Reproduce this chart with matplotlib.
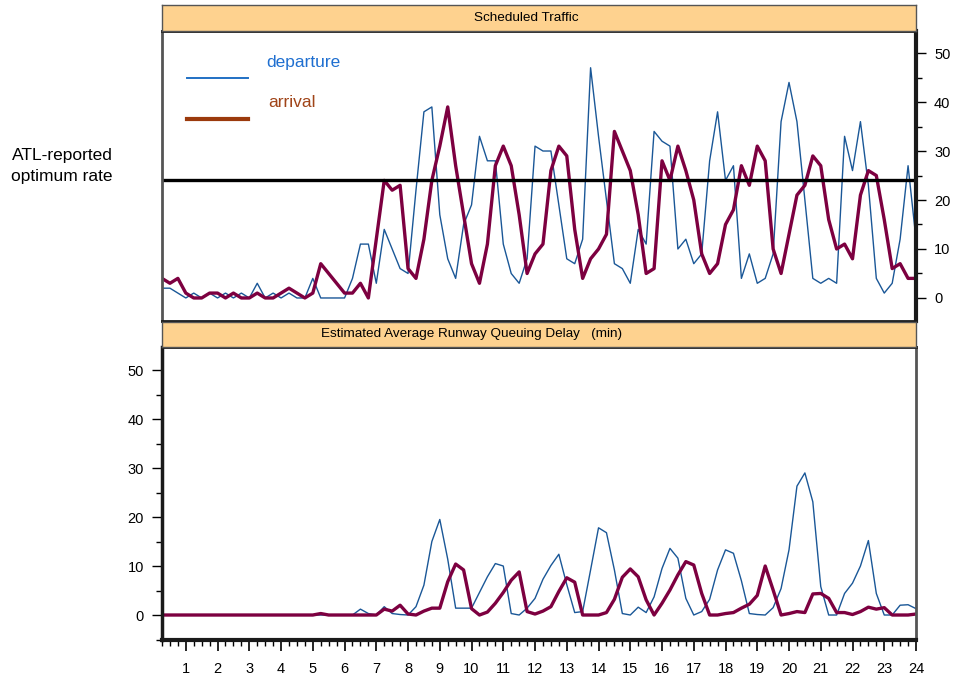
import numpy as np
import matplotlib
matplotlib.use("Agg")
import matplotlib.pyplot as plt
from matplotlib.ticker import MultipleLocator

plt.rcParams['font.family'] = ['Liberation Sans', 'DejaVu Sans']

# quarter-hour time stamps (hours)
time_h = np.arange(1, 97) * 0.25

sched_departure = [2, 2, 1, 0, 1, 0, 1, 0, 1, 0, 1, 0, 3, 0, 1, 0, 1, 0, 0, 4,
                   0, 0, 0, 0, 4, 11, 11, 3, 14, 10, 6, 5, 22, 38, 39, 17, 8, 4, 15, 19,
                   33, 28, 28, 11, 5, 3, 8, 31, 30, 30, 19, 8, 7, 12, 47, 33, 20, 7, 6, 3,
                   14, 11, 34, 32, 31, 10, 12, 7, 9, 28, 38, 24, 27, 4, 9, 3, 4, 9, 36, 44,
                   36, 20, 4, 3, 4, 3, 33, 26, 36, 23, 4, 1, 3, 12, 27, 12]

sched_arrival = [4, 3, 4, 1, 0, 0, 1, 1, 0, 1, 0, 0, 1, 0, 0, 1, 2, 1, 0, 1,
                 7, 5, 3, 1, 1, 3, 0, 12, 24, 22, 23, 6, 4, 12, 24, 31, 39, 27, 17, 7,
                 3, 11, 27, 31, 27, 17, 5, 9, 11, 26, 31, 29, 14, 4, 8, 10, 13, 34, 30, 26,
                 17, 5, 6, 28, 24, 31, 26, 20, 9, 5, 7, 15, 18, 27, 23, 31, 28, 10, 5, 13,
                 21, 23, 29, 27, 16, 10, 11, 8, 21, 26, 25, 16, 6, 7, 4, 4]

delay_departure = [0, 0, 0, 0, 0, 0, 0, 0, 0, 0, 0, 0, 0, 0, 0, 0, 0, 0, 0, 0,
                   0, 0, 0, 0, 0, 1.2, 0.3, 0, 1.7, 0.3, 0.1, 0, 1.7, 6.1, 15.0, 19.5, 11.4, 1.4, 1.4, 1.4,
                   4.6, 7.8, 10.5, 10.0, 0.3, 0, 1.4, 3.4, 7.3, 10.1, 12.4, 6.2, 0.5, 0.7, 9.2, 17.8, 16.8, 9.2, 0.3, 0,
                   1.6, 0.5, 3.7, 9.5, 13.6, 11.6, 3.4, 0, 0.7, 3.2, 9.2, 13.3, 12.6, 7.0, 0.3, 0.1, 0, 1.5, 5.4, 13.3,
                   26.3, 29.0, 23.1, 5.8, 0, 0, 4.4, 6.5, 10.0, 15.2, 4.4, 0, 0, 2.0, 2.1, 1.3]

delay_arrival = [0, 0, 0, 0, 0, 0, 0, 0, 0, 0, 0, 0, 0, 0, 0, 0, 0, 0, 0, 0,
                 0.3, 0, 0, 0, 0, 0, 0, 0, 1.2, 0.8, 2.0, 0.2, 0, 0.8, 1.4, 1.4, 6.8, 10.4, 9.2, 1.3,
                 0, 0.6, 2.4, 4.6, 7.1, 8.8, 0.7, 0.2, 0.8, 1.7, 4.8, 7.6, 6.7, 0, 0, 0, 0.5, 3.2, 7.7, 9.4,
                 7.8, 3.1, 0, 2.4, 5.1, 8.2, 10.9, 10.2, 4.4, 0, 0, 0.3, 0.5, 1.4, 2.2, 4.0, 10.0, 5.1, 0, 0.3,
                 0.7, 0.5, 4.3, 4.4, 3.4, 0.5, 0.5, 0.1, 0.7, 1.6, 1.2, 1.5, 0, 0, 0, 0.2]

optimum_rate = 24
hour_labels = [str(h) for h in range(1, 25)]

dep_color = '#1a5797'
arr_color = '#7d0040'
strip_color = '#FED28F'

W, H = 957, 684
fig = plt.figure(figsize=(W / 100, H / 100), dpi=100)

def rect(x0, y0, x1, y1):
    return [x0 / W, 1 - y1 / H, (x1 - x0) / W, (y1 - y0) / H]

ax1 = fig.add_axes(rect(162, 31, 916, 321))
ax2 = fig.add_axes(rect(162, 347, 916, 640))
s1 = fig.add_axes(rect(162, 5, 916, 31))
s2 = fig.add_axes(rect(162, 322, 916, 347))

for s, title, cx in [(s1, 'Scheduled Traffic', (526 - 162) / 754),
                     (s2, 'Estimated Average Runway Queuing Delay   (min)', (472 - 162) / 754)]:
    s.set_facecolor(strip_color)
    s.set_xticks([]); s.set_yticks([])
    for sp in s.spines.values():
        sp.set_color('#555555'); sp.set_linewidth(1.0)
    s.text(cx, 0.5, title, ha='center', va='center', fontsize=9.7,
           transform=s.transAxes)

# top panel
ax1.plot(time_h, sched_departure, color=dep_color, lw=1.0)
ax1.plot(time_h, sched_arrival, color=arr_color, lw=2.4)
ax1.axhline(optimum_rate, color='black', lw=2.4)
ax1.set_xlim(0.25, 24)
ax1.set_ylim(-4.7, 54.5)
ax1.set_xticks([])
ax1.yaxis.tick_right()
ax1.set_yticks(range(0, 51, 10))
ax1.yaxis.set_minor_locator(MultipleLocator(5))
ax1.tick_params(axis='y', which='major', length=7, width=1, labelsize=10.5, pad=6)
ax1.tick_params(axis='y', which='minor', length=4, width=1)
for name, sp in ax1.spines.items():
    sp.set_color('#1a1a1a'); sp.set_linewidth(2.0)
ax1.spines['left'].set_color('#555555')
ax1.spines['right'].set_linewidth(3.0)

# legend (manual)
ax1.plot([0.033, 0.114], [0.838, 0.838], color='#2070c4', lw=1.4,
         transform=ax1.transAxes)
ax1.text(0.138, 0.893, 'departure', color='#1f6fd0', fontsize=12.5,
         transform=ax1.transAxes, va='center', ha='left')
ax1.plot([0.033, 0.114], [0.697, 0.697], color='#9b3a0c', lw=3.0,
         transform=ax1.transAxes)
ax1.text(0.141, 0.755, 'arrival', color='#a04418', fontsize=12.5,
         transform=ax1.transAxes, va='center', ha='left')

fig.text(62 / W, 1 - 166 / H, 'ATL-reported\noptimum rate', ha='center',
         va='center', fontsize=12.5, linespacing=1.45)

# bottom panel
ax2.plot(time_h, delay_departure, color=dep_color, lw=1.0)
ax2.plot(time_h, delay_arrival, color=arr_color, lw=2.4)
ax2.set_xlim(0.25, 24)
ax2.set_ylim(-5.1, 54.7)
ax2.set_yticks(range(0, 51, 10))
ax2.yaxis.set_minor_locator(MultipleLocator(5))
ax2.set_xticks(range(1, 25))
ax2.set_xticklabels(hour_labels)
ax2.xaxis.set_minor_locator(MultipleLocator(0.25))
ax2.tick_params(axis='y', which='major', length=7, width=1, labelsize=10.5, pad=6)
ax2.tick_params(axis='y', which='minor', length=4, width=1)
ax2.tick_params(axis='x', which='major', length=8, width=1.2, labelsize=10.5, pad=8)
ax2.tick_params(axis='x', which='minor', length=4, width=1)
for name, sp in ax2.spines.items():
    sp.set_color('#1a1a1a'); sp.set_linewidth(2.0)
ax2.spines['bottom'].set_linewidth(3.0)
ax2.spines['left'].set_linewidth(2.5)
ax2.spines['right'].set_color('#555555')

fig.savefig('out.png', dpi=100)
